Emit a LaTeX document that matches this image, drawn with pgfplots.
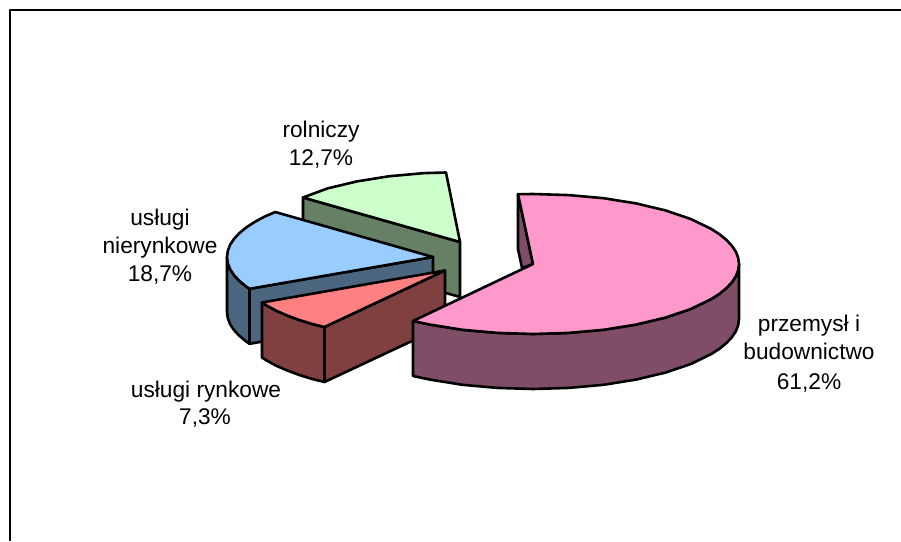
\documentclass[border=0pt]{standalone}
\usepackage{fontspec}
\setmainfont{Liberation Sans}
\usepackage{pgfplots}
\pgfplotsset{compat=1.18}
\definecolor{pinkT}{HTML}{FF99CC}\definecolor{pinkS}{HTML}{804D66}
\definecolor{greenT}{HTML}{CCFFCC}\definecolor{greenS}{HTML}{668066}
\definecolor{blueT}{HTML}{99CCFF}\definecolor{blueS}{HTML}{4D6680}
\definecolor{redT}{HTML}{FF8080}\definecolor{redS}{HTML}{804040}
\tikzset{lbl/.style={font=\fontsize{22.7}{26}\selectfont,anchor=base,inner sep=0pt}}
\begin{document}
\begin{tikzpicture}
\useasboundingbox (0,0) rectangle (901pt,541pt);
\begin{axis}[at={(0,0)},anchor=south west,scale only axis,width=901pt,height=541pt,xmin=0,xmax=901,ymin=0,ymax=541,y dir=reverse,hide axis,
  every axis plot/.append style={line join=round,line width=2.6pt,draw=black}]
\addplot[line width=1.8pt,forget plot] coordinates {(10,541)(10,10)(901,10)};
% green
\addplot[fill=greenS] coordinates {(303,197.5)(460,242)(460,297)(303,252.5)} --cycle;
\addplot[fill=greenT] coordinates {(460,242)(303,197.5)(327.6,188.4)(357,181.4)(389.5,176.2)(424.2,173.1)(446,172.5)} --cycle;
% blue
\addplot[fill=blueS] coordinates {(227,257)(227.8,263.1)(230.1,269.2)(234,275.1)(239.4,280.9)(246.3,286.6)(249.5,288.8)(249.5,343.8)(246.3,341.6)(239.4,335.9)(234,330.1)(230.1,324.2)(227.8,318.1)(227,312)} --cycle;
\addplot[fill=blueS] coordinates {(249.5,288.8)(433,257)(433,312)(249.5,343.8)} --cycle;
\addplot[fill=blueT] coordinates {(433,257)(275.2,212)(264.2,216.8)(254.6,222)(246.3,227.4)(239.4,233.1)(234,238.9)(230.1,244.8)(227.8,250.9)(227,257)(227.8,263.1)(230.1,269.2)(234,275.1)(239.4,280.9)(246.3,286.6)(249.5,288.8)} --cycle;
% red
\addplot[fill=redS] coordinates {(262,302.5)(266.6,305.5)(276.2,310.7)(287.2,315.5)(299.3,320)(312.6,324.1)(324.5,327)(324.5,382)(312.6,379.1)(299.3,375)(287.2,370.5)(276.2,365.7)(266.6,360.5)(262,357.5)} --cycle;
\addplot[fill=redS] coordinates {(324.5,327)(445,270.5)(445,325.5)(324.5,382)} --cycle;
\addplot[fill=redT] coordinates {(445,270.5)(262,302.5)(266.6,305.5)(276.2,310.7)(287.2,315.5)(299.3,320)(312.6,324.1)(324.5,327)} --cycle;
% pink
\addplot[fill=pinkS] coordinates {(518,194.2)(518,249)(522,268)(533,264)} --cycle;
\addplot[fill=pinkS] coordinates {(413,321)(430,324.6)(462.5,329.8)(497.2,332.9)(533,334)(568.8,332.9)(603.5,329.8)(636,324.6)(665.4,317.6)(690.8,309)(711.4,299)(719.7,293.6)(726.6,287.9)(732,282.1)(735.9,276.2)(738.2,270.1)(739,264)(739,319)(738.2,325.1)(735.9,331.2)(732,337.1)(726.6,342.9)(719.7,348.6)(711.4,354)(690.8,364)(665.4,372.6)(636,379.6)(603.5,384.8)(568.8,387.9)(533,389)(497.2,387.9)(462.5,384.8)(430,379.6)(413,376)} --cycle;
\addplot[fill=pinkT] coordinates {(533,264)(518,194.2)(533,194)(568.8,195.1)(603.5,198.2)(636,203.4)(665.4,210.4)(690.8,219)(711.4,229)(719.7,234.4)(726.6,240.1)(732,245.9)(735.9,251.8)(738.2,257.9)(739,264)(738.2,270.1)(735.9,276.2)(732,282.1)(726.6,287.9)(719.7,293.6)(711.4,299)(690.8,309)(665.4,317.6)(636,324.6)(603.5,329.8)(568.8,332.9)(533,334)(497.2,332.9)(462.5,329.8)(430,324.6)(413,321)} --cycle;
% labels
\node[lbl] at (axis cs:321,137) {rolniczy};
\node[lbl] at (axis cs:321,165) {12,7\%};
\node[lbl] at (axis cs:160,225) {usługi};
\node[lbl] at (axis cs:160,253) {nierynkowe};
\node[lbl] at (axis cs:160,281) {18,7\%};
\node[lbl] at (axis cs:809,331) {przemysł i};
\node[lbl] at (axis cs:809,359) {budownictwo};
\node[lbl] at (axis cs:809,389) {61,2\%};
\node[lbl] at (axis cs:206,397) {usługi rynkowe};
\node[lbl] at (axis cs:205,424) {7,3\%};
\end{axis}
\end{tikzpicture}
\end{document}
